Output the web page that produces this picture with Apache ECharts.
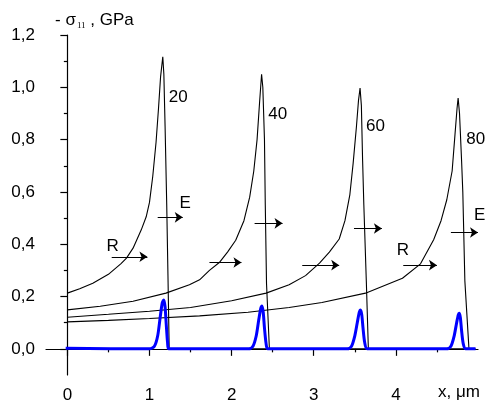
<!DOCTYPE html>
<html>
<head>
<meta charset="utf-8">
<script src="https://cdn.jsdelivr.net/npm/echarts@6/dist/echarts.min.js"></script>
<style>html,body{margin:0;padding:0;background:#fff}#c{width:486px;height:405px}</style>
</head>
<body>
<div id="c"></div>
<script>
const xTicks = [0, 1, 2, 3, 4];
const xMinorTicks = [0.5, 1.5, 2.5, 3.5, 4.5];
const yTicks = [0, 0.2, 0.4, 0.6, 0.8, 1.0, 1.2];
const yMinorTicks = [0.1, 0.3, 0.5, 0.7, 0.9, 1.1];

// black stress curves (x in um, -sigma11 in GPa)
const curve20 = [[0,0.213],[0.15,0.23],[0.31,0.251],[0.5,0.285],[0.65,0.325],[0.72,0.347],[0.8,0.385],[0.9,0.455],[0.96,0.505],[1.0,0.56],[1.04,0.66],[1.08,0.79],[1.11,0.92],[1.135,1.04],[1.162,1.117],[1.175,1.05],[1.19,0.85],[1.21,0.55],[1.225,0.28],[1.24,0],[4.97,0]];
const curve40 = [[0,0.149],[0.4,0.163],[0.8,0.182],[1.2,0.213],[1.486,0.245],[1.61,0.264],[1.73,0.30],[1.85,0.33],[1.95,0.37],[2.05,0.415],[2.15,0.49],[2.22,0.58],[2.27,0.68],[2.31,0.80],[2.34,0.94],[2.365,1.05],[2.38,1.0],[2.40,0.8],[2.41,0.55],[2.425,0.25],[2.46,0]];
const curve60 = [[0,0.121],[0.5,0.132],[1.0,0.144],[1.5,0.158],[2.0,0.184],[2.42,0.213],[2.7,0.245],[2.9,0.28],[3.07,0.328],[3.19,0.37],[3.31,0.42],[3.38,0.49],[3.44,0.59],[3.48,0.71],[3.52,0.85],[3.545,0.95],[3.564,0.997],[3.58,0.93],[3.595,0.72],[3.61,0.55],[3.64,0.26],[3.665,0]];
const curve80 = [[0,0.103],[0.5,0.109],[1.0,0.116],[1.61,0.126],[2.2,0.14],[2.7,0.158],[3.1,0.177],[3.63,0.213],[4.08,0.27],[4.3,0.325],[4.46,0.417],[4.55,0.49],[4.62,0.57],[4.685,0.68],[4.72,0.82],[4.745,0.92],[4.758,0.959],[4.775,0.90],[4.80,0.72],[4.815,0.60],[4.84,0.26],[4.89,0]];

// blue curve
const blueCurve = [[-0.02,0.002],[1.0,0],[1.06,0.01],[1.10,0.05],[1.13,0.12],[1.155,0.175],[1.174,0.187],[1.19,0.16],[1.205,0.09],[1.22,0.025],[1.235,0],[2.21,0],[2.26,0.01],[2.30,0.05],[2.33,0.11],[2.355,0.155],[2.37,0.164],[2.385,0.14],[2.40,0.08],[2.42,0.02],[2.44,0],[3.41,0],[3.46,0.01],[3.50,0.05],[3.53,0.10],[3.555,0.14],[3.57,0.149],[3.585,0.13],[3.60,0.08],[3.62,0.025],[3.65,0],[4.62,0],[4.67,0.01],[4.71,0.05],[4.74,0.10],[4.76,0.13],[4.77,0.136],[4.785,0.12],[4.80,0.07],[4.82,0.02],[4.85,0],[4.97,0]];

// annotation arrows [from, to]
const arrows = [
  [[0.54,0.352],[0.975,0.352]], [[1.10,0.503],[1.405,0.503]],
  [[1.73,0.33],[2.12,0.33]], [[2.28,0.48],[2.62,0.48]],
  [[2.86,0.32],[3.31,0.32]], [[3.49,0.46],[3.83,0.46]],
  [[4.09,0.32],[4.50,0.32]], [[4.67,0.445],[5.0,0.445]]
];
const labelNames = ['20','40','60','80','E','E','R','R'];
const labelPos = [[1.235,0.962],[2.446,0.895],[3.637,0.851],[4.858,0.80],[1.367,0.555],[4.95,0.509],[0.478,0.392],[4.01,0.377]];

const FONT = 'Liberation Sans';
const fmt = v => (Math.round(v*10)/10).toFixed(1).replace('.', ',');
const axisCol = '#000';

const chart = echarts.init(document.getElementById('c'), null, {renderer:'canvas'});
chart.setOption({
  animation: false,
  backgroundColor: '#fff',
  grid: {left: 46, right: 8, top: 35, bottom: 30, containLabel: false},
  title: {
    left: 50, top: 6,
    text: '{a|- σ}{s|11}{a| , GPa}',
    textStyle: {
      fontWeight: 'normal',
      rich: {
        a: {fontSize: 17, fontFamily: FONT, color: '#000', fontWeight: 'normal'},
        s: {fontSize: 9, fontFamily: 'Liberation Serif', color: '#000', fontWeight: 'normal', padding: [10, 0, 0, 1]}
      }
    }
  },
  graphic: [{
    type: 'text', right: 6, top: 384,
    style: {text: 'x, μm', font: '17px "Liberation Sans"', fill: '#000'}
  }],
  xAxis: [{
    type: 'value', min: -0.26, max: 5.0, position: 'bottom',
    axisLine: {show: true, lineStyle: {color: axisCol, width: 1.2}},
    axisTick: {show: true, length: 7, customValues: xTicks, lineStyle: {color: axisCol, width: 1.2}},
    axisLabel: {show: true, customValues: xTicks, margin: 12, fontSize: 17, fontFamily: FONT, color: '#000', formatter: v => String(v)},
    splitLine: {show: false}
  }, {
    type: 'value', min: -0.26, max: 5.0, position: 'bottom',
    axisLine: {show: false},
    axisTick: {show: true, length: 3.5, customValues: xMinorTicks, lineStyle: {color: axisCol, width: 1.2}},
    axisLabel: {show: false},
    splitLine: {show: false}
  }],
  yAxis: [{
    type: 'value', min: -0.1, max: 1.2, position: 'left',
    axisLine: {show: true, lineStyle: {color: axisCol, width: 1.2}},
    axisTick: {show: true, length: 7, customValues: yTicks, lineStyle: {color: axisCol, width: 1.2}},
    axisLabel: {show: true, customValues: yTicks, margin: 11, fontSize: 17, fontFamily: FONT, color: '#000', formatter: fmt},
    splitLine: {show: false}
  }, {
    type: 'value', min: -0.1, max: 1.2, position: 'left',
    axisLine: {show: false},
    axisTick: {show: true, length: 3.5, customValues: yMinorTicks, lineStyle: {color: axisCol, width: 1.2}},
    axisLabel: {show: false},
    splitLine: {show: false}
  }],
  series: [
    ...[curve20, curve40, curve60, curve80].map(d => ({
      type: 'line', data: d, showSymbol: false, symbol: 'none',
      lineStyle: {color: '#000', width: 1.1}, clip: false, z: 2
    })),
    {
      type: 'line', data: blueCurve, showSymbol: false, symbol: 'none', smooth: 0.25,
      lineStyle: {color: '#0000ff', width: 3}, clip: false, z: 3
    },
    {
      type: 'lines', coordinateSystem: 'cartesian2d', clip: false, z: 4,
      symbol: ['none', 'arrow'], symbolSize: [0, 8],
      lineStyle: {color: '#000', width: 1, opacity: 1},
      data: arrows.map(a => ({coords: a}))
    },
    {
      type: 'scatter', symbolSize: 0, clip: false, z: 5, silent: true,
      itemStyle: {opacity: 1, color: '#000'},
      data: labelPos.map((p, i) => ({value: p, name: labelNames[i]})),
      label: {show: true, position: 'right', distance: 0, formatter: '{b}', fontSize: 17, fontFamily: FONT, color: '#000', opacity: 1}
    }
  ]
});
</script>
</body>
</html>
